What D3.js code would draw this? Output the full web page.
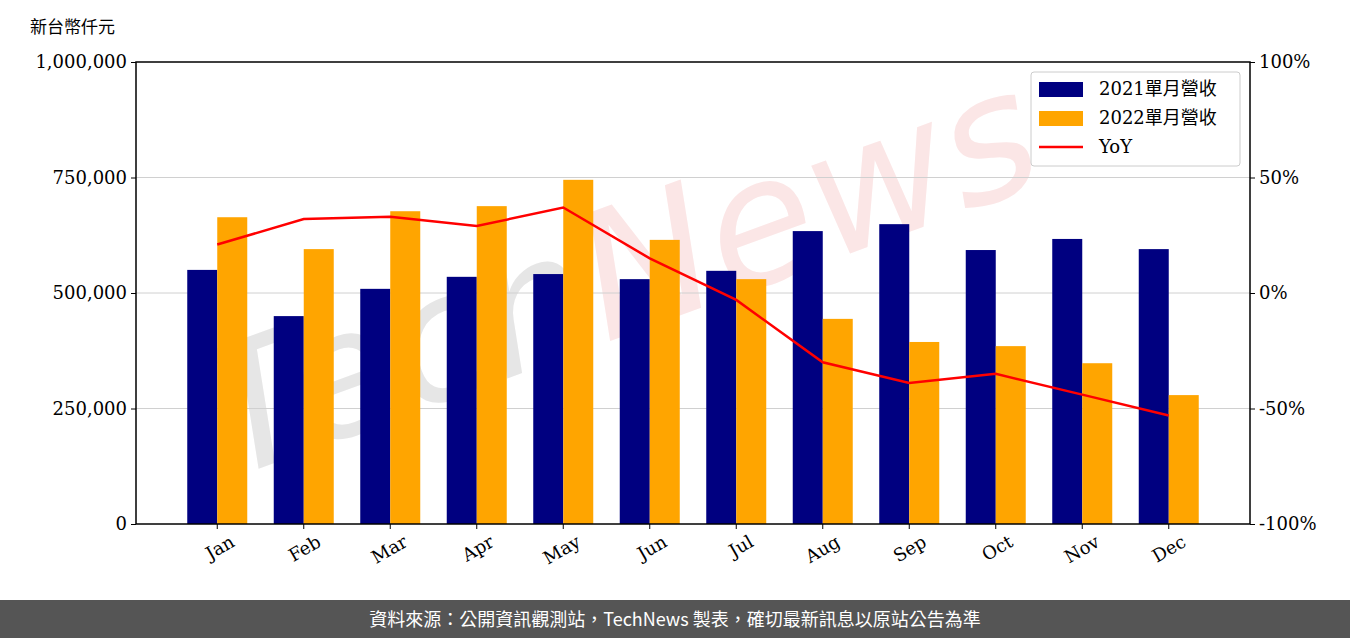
<!DOCTYPE html>
<html>
<head>
<meta charset="utf-8">
<script src="https://d3js.org/d3.v7.min.js"></script>
<style>
  body { margin: 0; background: #fff; }
  svg { display: block; }
  .tick text { font-family: 'DejaVu Serif', serif; font-size: 18px; fill: #000; }
</style>
</head>
<body>
<div id="chart"></div>
<script>
const months = ["Jan","Feb","Mar","Apr","May","Jun","Jul","Aug","Sep","Oct","Nov","Dec"];
const rev2021 = [550000,450000,509000,535000,541000,530000,548000,634000,649000,593000,617000,595000];
const rev2022 = [664000,595000,677000,688000,745000,615000,530000,444000,394000,385000,348000,279000];
const yoy = [21,32,33,29,37,15,-3,-30,-39,-35,-44,-53];
const leftTicks = [0,250000,500000,750000,1000000];
const rightTicks = [-100,-50,0,50,100];

const W = 1350, H = 638;
const mL = 136, mR = 1250, mT = 62, mB = 524;

const svg = d3.select("#chart").append("svg").attr("width", W).attr("height", H);

// watermark
const wm = svg.append("text")
  .attr("transform", "translate(640,330) rotate(-20)")
  .attr("text-anchor", "middle")
  .attr("font-family", "'DejaVu Sans', sans-serif")
  .attr("font-style", "italic")
  .attr("font-size", 175);
wm.append("tspan").attr("fill", "#e6e6e6").text("Tech");
wm.append("tspan").attr("fill", "#fbe6e6").text("News");

const x = d3.scaleBand().domain(months).range([mL + 38, mR - 38]).padding(0);
const y = d3.scaleLinear().domain([0, 1000000]).range([mB, mT]);
const y2 = d3.scaleLinear().domain([-100, 100]).range([mB, mT]);

// grid
svg.append("g").selectAll("line").data(leftTicks.slice(1, -1)).join("line")
  .attr("x1", mL).attr("x2", mR)
  .attr("y1", d => y(d)).attr("y2", d => y(d))
  .attr("stroke", "#d0d0d0").attr("stroke-width", 1);

const bw = 30;
svg.append("g").selectAll("rect").data(rev2021).join("rect")
  .attr("x", (d, i) => x(months[i]) + x.bandwidth() / 2 - bw)
  .attr("y", d => y(d)).attr("width", bw).attr("height", d => mB - y(d))
  .attr("fill", "#000080");
svg.append("g").selectAll("rect").data(rev2022).join("rect")
  .attr("x", (d, i) => x(months[i]) + x.bandwidth() / 2)
  .attr("y", d => y(d)).attr("width", bw).attr("height", d => mB - y(d))
  .attr("fill", "#ffa500");

svg.append("path").datum(yoy)
  .attr("fill", "none").attr("stroke", "red").attr("stroke-width", 2.5)
  .attr("d", d3.line().x((d, i) => x(months[i]) + x.bandwidth() / 2).y(d => y2(d)));

// frame
svg.append("rect").attr("x", mL).attr("y", mT).attr("width", mR - mL).attr("height", mB - mT)
  .attr("fill", "none").attr("stroke", "#000").attr("stroke-width", 1.5);

const gl = svg.append("g").attr("transform", `translate(${mL},0)`)
  .call(d3.axisLeft(y).tickValues(leftTicks).tickFormat(d3.format(",")).tickSizeOuter(0).tickSize(5).tickPadding(4));
const gr = svg.append("g").attr("transform", `translate(${mR},0)`)
  .call(d3.axisRight(y2).tickValues(rightTicks).tickFormat(d => d + "%").tickSizeOuter(0).tickSize(5).tickPadding(4));
const gx = svg.append("g").attr("transform", `translate(0,${mB})`)
  .call(d3.axisBottom(x).tickSizeOuter(0).tickSize(5));
[gl, gr, gx].forEach(g => g.select(".domain").remove());
gx.selectAll(".tick text")
  .attr("text-anchor", "end").attr("dx", "0.3em").attr("dy", "1.1em")
  .attr("transform", "rotate(-30)");

svg.append("text").attr("x", 30).attr("y", 33)
  .attr("font-family", "'Noto Sans CJK TC', sans-serif").attr("font-size", 17)
  .text("新台幣仟元");

// legend
const lg = svg.append("g").attr("transform", "translate(1031,72)");
lg.append("rect").attr("width", 209).attr("height", 94).attr("rx", 3)
  .attr("fill", "#fff").attr("fill-opacity", 0.85).attr("stroke", "#ccc");
const items = [["2021單月營收", "#000080", "bar"], ["2022單月營收", "#ffa500", "bar"], ["YoY", "red", "line"]];
items.forEach((it, i) => {
  const cy = 17 + i * 29;
  if (it[2] === "bar") lg.append("rect").attr("x", 8).attr("y", cy - 7).attr("width", 44).attr("height", 15).attr("fill", it[1]);
  else lg.append("line").attr("x1", 8).attr("x2", 52).attr("y1", cy).attr("y2", cy).attr("stroke", it[1]).attr("stroke-width", 2.5);
  lg.append("text").attr("x", 68).attr("y", cy + 6)
    .attr("font-family", "'DejaVu Serif', 'Noto Sans CJK TC', serif").attr("font-size", 18)
    .text(it[0]);
});

// footer
svg.append("rect").attr("x", 0).attr("y", 600).attr("width", W).attr("height", 38).attr("fill", "#555");
svg.append("text").attr("x", W / 2).attr("y", 626).attr("text-anchor", "middle")
  .attr("font-family", "'Noto Sans CJK TC', sans-serif").attr("font-size", 18).attr("fill", "#fff")
  .text("資料來源：公開資訊觀測站，TechNews 製表，確切最新訊息以原站公告為準");
</script>
</body>
</html>
